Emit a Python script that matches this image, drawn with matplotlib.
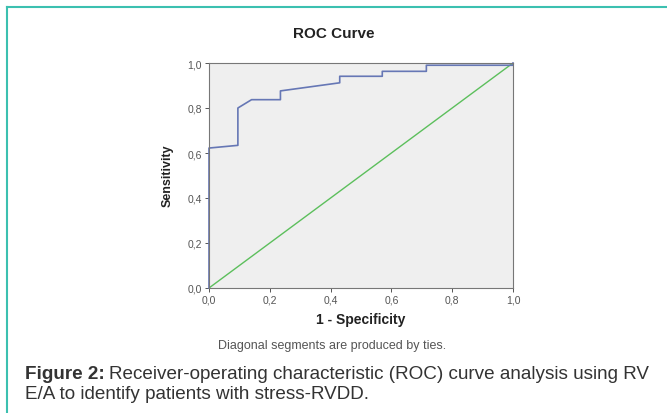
import numpy as np
import matplotlib.pyplot as plt

plt.rcParams['font.family'] = ['Liberation Sans', 'DejaVu Sans']

fpr = [0.0, 0.0, 0.095, 0.095, 0.14, 0.235, 0.235, 0.43, 0.43, 0.57, 0.57, 0.715, 0.715, 1.0, 1.0]
tpr = [0.0, 0.622, 0.634, 0.80, 0.837, 0.837, 0.876, 0.912, 0.941, 0.941, 0.963, 0.963, 0.99, 0.99, 1.0]
ref = [0.0, 1.0]
ticks = [0.0, 0.2, 0.4, 0.6, 0.8, 1.0]
tickLabels = ["0,0", "0,2", "0,4", "0,6", "0,8", "1,0"]

fig = plt.figure(figsize=(6.67, 4.14), dpi=100)
W, H = 667, 414

# teal frame on top and left
fig.add_artist(plt.Line2D([7 / W, 1], [1 - 8 / H, 1 - 8 / H], color="#3cc0b0", lw=1.5))
fig.add_artist(plt.Line2D([7 / W, 7 / W], [0, 1 - 8 / H], color="#3cc0b0", lw=1.5))

ax = fig.add_axes([209 / W, 1 - 289 / H, (513 - 209) / W, (289 - 64) / H])
ax.set_facecolor("#efefef")
ax.plot(ref, ref, color="#5cbf5c", lw=1)
ax.plot(fpr, tpr, color="#6677b5", lw=1.2, clip_on=False)
ax.set_xlim(0, 1)
ax.set_ylim(0, 1)
ax.set_xticks(ticks)
ax.set_xticklabels(tickLabels)
ax.set_yticks(ticks)
ax.set_yticklabels(tickLabels)
ax.tick_params(labelsize=7.5, colors="#555555", length=3, width=0.7, pad=2)
for s in ax.spines.values():
    s.set_color("#777777")
    s.set_linewidth(0.8)

fig.text(334 / W, 1 - 34 / H, "ROC Curve", ha="center", va="center", fontsize=11, fontweight="bold", color="#222222")
fig.text(168 / W, 1 - 176 / H, "Sensitivity", ha="center", va="center", rotation=90, fontsize=9, fontweight="bold", color="#222222")
fig.text(361 / W, 1 - 320 / H, "1 - Specificity", ha="center", va="center", fontsize=10, fontweight="bold", color="#222222")
fig.text(332 / W, 1 - 346 / H, "Diagonal segments are produced by ties.", ha="center", va="center", fontsize=9, color="#555555")

t1 = fig.text(25 / W, 1 - 375 / H, "Figure 2:", ha="left", va="center", fontsize=13.6, fontweight="bold", color="#333333")
fig.canvas.draw()
bb = t1.get_window_extent()
fig.text(bb.x1 / W + 4 / W, 1 - 375 / H, "Receiver-operating characteristic (ROC) curve analysis using RV", ha="left", va="center", fontsize=13.6, color="#333333")
fig.text(25 / W, 1 - 395 / H, "E/A to identify patients with stress-RVDD.", ha="left", va="center", fontsize=13.6, color="#333333")

fig.savefig("out.png", dpi=100)
